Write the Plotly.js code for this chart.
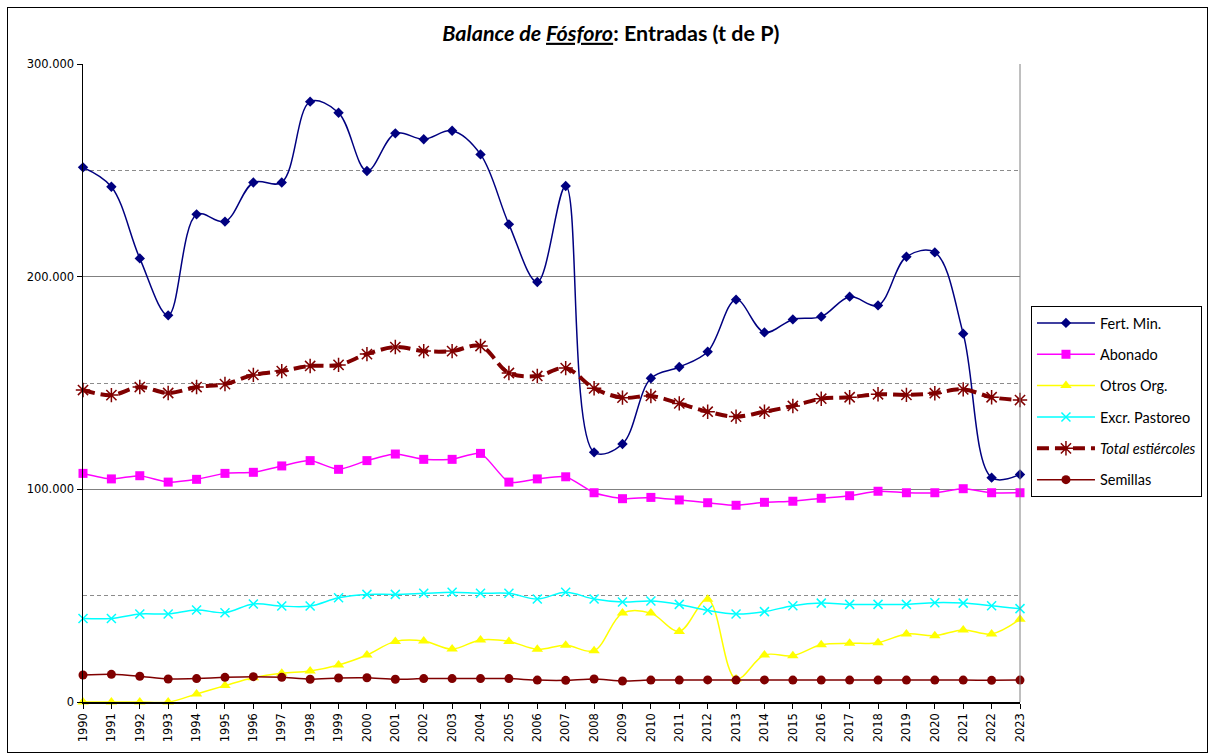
<!DOCTYPE html>
<html>
<head>
<meta charset="utf-8">
<script src="https://cdn.plot.ly/plotly-3.0.1.min.js"></script>
<style>
  html, body { margin: 0; padding: 0; background: #fff; }
  #wrap { position: relative; width: 1212px; height: 756px; }
  #chart { width: 1212px; height: 756px; }
  #frame { position: absolute; left: 7px; top: 7px; width: 1199px; height: 744px; border: 1px solid #000; pointer-events: none; }
</style>
</head>
<body>
<div id="wrap">
  <div id="chart"></div>
  <div id="frame"></div>
</div>
<script>
const years = [1990,1991,1992,1993,1994,1995,1996,1997,1998,1999,2000,2001,2002,2003,2004,2005,2006,2007,2008,2009,2010,2011,2012,2013,2014,2015,2016,2017,2018,2019,2020,2021,2022,2023];

const fertMin = [251400,242300,208600,181800,229300,225900,244300,244300,282300,277100,249700,267400,264600,268600,257500,224600,197500,242600,117400,121300,152200,157500,164700,189200,173800,179900,181200,190600,186500,209400,211400,173200,105500,107000];

const abonado = [107500,104900,106400,103400,104700,107500,108000,111000,113500,109400,113500,116600,114100,114100,116900,103400,104900,105900,98400,95600,96200,95000,93700,92500,93900,94400,95800,97000,99100,98400,98400,100300,98400,98400];

const otrosOrg = [0,0,0,0,3800,7700,11400,13500,14600,17400,22100,28500,28700,24900,29200,28500,24800,26700,24100,41800,41800,33200,48300,10800,22100,21800,26900,27600,27900,32000,31200,33900,32000,38900];

const excrPastoreo = [39300,39300,41400,41400,43300,42000,46100,45100,45100,49000,50600,50600,51100,51600,51100,51100,48400,51600,48400,47000,47500,45900,43100,41400,42500,45300,46500,45900,45900,45900,46700,46500,45300,43900];

const totalEstiercoles = [146700,144300,148100,145300,148100,149500,153800,155600,158000,158500,163600,166900,165000,165000,167400,154700,153300,157000,147500,143100,143900,140400,136500,134200,136500,139200,142600,143300,144700,144400,145200,147000,143300,142000];

const semillas = [12700,13000,12100,10800,11000,11600,11900,11600,10700,11300,11400,10700,11000,11000,11000,11000,10300,10200,10800,9900,10300,10300,10400,10300,10400,10300,10300,10300,10300,10300,10300,10300,10200,10300];

const seriesNames = ['Fert. Min.', 'Abonado', 'Otros Org.', 'Excr. Pastoreo', '<i>Total estiércoles</i>', 'Semillas'];
const yTickVals = [0, 100000, 200000, 300000];

const base = { x: years, type: 'scatter', mode: 'lines+markers', cliponaxis: false };

const traces = [
  Object.assign({}, base, { y: fertMin, name: seriesNames[0], legendgroup: 'a',
    line: { color: '#000080', width: 1.5, shape: 'spline', smoothing: 1 },
    marker: { symbol: 'diamond', size: 8, color: '#000080' } }),
  Object.assign({}, base, { y: abonado, name: seriesNames[1], legendgroup: 'b',
    line: { color: '#FF00FF', width: 1.5, shape: 'spline', smoothing: 0.6 },
    marker: { symbol: 'square', size: 9, color: '#FF00FF' } }),
  Object.assign({}, base, { y: otrosOrg, name: seriesNames[2], legendgroup: 'c',
    line: { color: '#FFFF00', width: 1.5, shape: 'spline', smoothing: 1 },
    marker: { symbol: 'triangle-up', size: 10, color: '#FFFF00' } }),
  Object.assign({}, base, { y: excrPastoreo, name: seriesNames[3], legendgroup: 'd',
    line: { color: '#00FFFF', width: 1.5, shape: 'spline', smoothing: 1 },
    marker: { symbol: 'x-thin-open', size: 9, color: '#00FFFF', line: { color: '#00FFFF', width: 1.5 } } }),
  Object.assign({}, base, { y: totalEstiercoles, name: seriesNames[4], legendgroup: 'e',
    line: { color: '#800000', width: 4, dash: '12px,6px', shape: 'spline', smoothing: 1 },
    marker: { symbol: 'asterisk-open', size: 12, color: '#800000', line: { color: '#800000', width: 1.5 } } }),
  Object.assign({}, base, { y: semillas, name: seriesNames[5], legendgroup: 'f',
    line: { color: '#800000', width: 1.5, shape: 'spline', smoothing: 0.6 },
    marker: { symbol: 'circle', size: 9, color: '#800000' } })
];

const layout = {
  width: 1212, height: 756,
  margin: { l: 83, r: 192, t: 64, b: 54, pad: 0, autoexpand: false },
  paper_bgcolor: '#ffffff', plot_bgcolor: '#ffffff',
  separators: ',.',
  font: { family: 'DejaVu Sans, sans-serif', size: 11, color: '#000' },
  title: {
    text: '<b><i>Balance de <u>Fósforo</u></i>: Entradas (t de P)</b>',
    x: 0.504, xref: 'container', xanchor: 'center',
    y: 0.956, yref: 'container', yanchor: 'middle',
    font: { family: 'Lato, Open Sans, sans-serif', size: 21.5, color: '#000' }
  },
  xaxis: {
    range: [1990, 2023], tickmode: 'array', tickvals: years, ticktext: years.map(String),
    tickangle: -90, ticks: 'outside', ticklen: 5, tickcolor: '#000', tickwidth: 1,
    showline: true, linecolor: '#000', linewidth: 1.5, showgrid: false, zeroline: false,
    tickfont: { family: 'DejaVu Sans, sans-serif', size: 11.5, color: '#000' }
  },
  yaxis: {
    range: [0, 300000], tickmode: 'array', tickvals: yTickVals, tickformat: ',d',
    ticks: 'outside', ticklen: 5, tickcolor: '#000', tickwidth: 1,
    showline: true, linecolor: '#000', linewidth: 1.5,
    showgrid: true, gridcolor: '#808080', gridwidth: 1, zeroline: false,
    tickfont: { family: 'DejaVu Sans, sans-serif', size: 11.5, color: '#000' },
    minor: { tickmode: 'linear', tick0: 50000, dtick: 100000, showgrid: true, gridcolor: '#8c8c8c', gridwidth: 1, griddash: '4px,3px', ticks: '' }
  },
  shapes: [
    { type: 'line', xref: 'paper', yref: 'paper', x0: 1, x1: 1, y0: 0, y1: 1, line: { color: '#808080', width: 1 } }
  ],
  showlegend: true,
  legend: {
    x: 1.0117, xanchor: 'left', y: 0.6207, yanchor: 'top',
    bgcolor: '#ffffff', bordercolor: '#000', borderwidth: 1,
    font: { family: 'Lato, sans-serif', size: 14.5, color: '#000' },
    tracegroupgap: 9.5, traceorder: 'grouped', itemwidth: 58
  }
};

Plotly.newPlot('chart', traces, layout, { displayModeBar: false, staticPlot: true });
</script>
</body>
</html>
